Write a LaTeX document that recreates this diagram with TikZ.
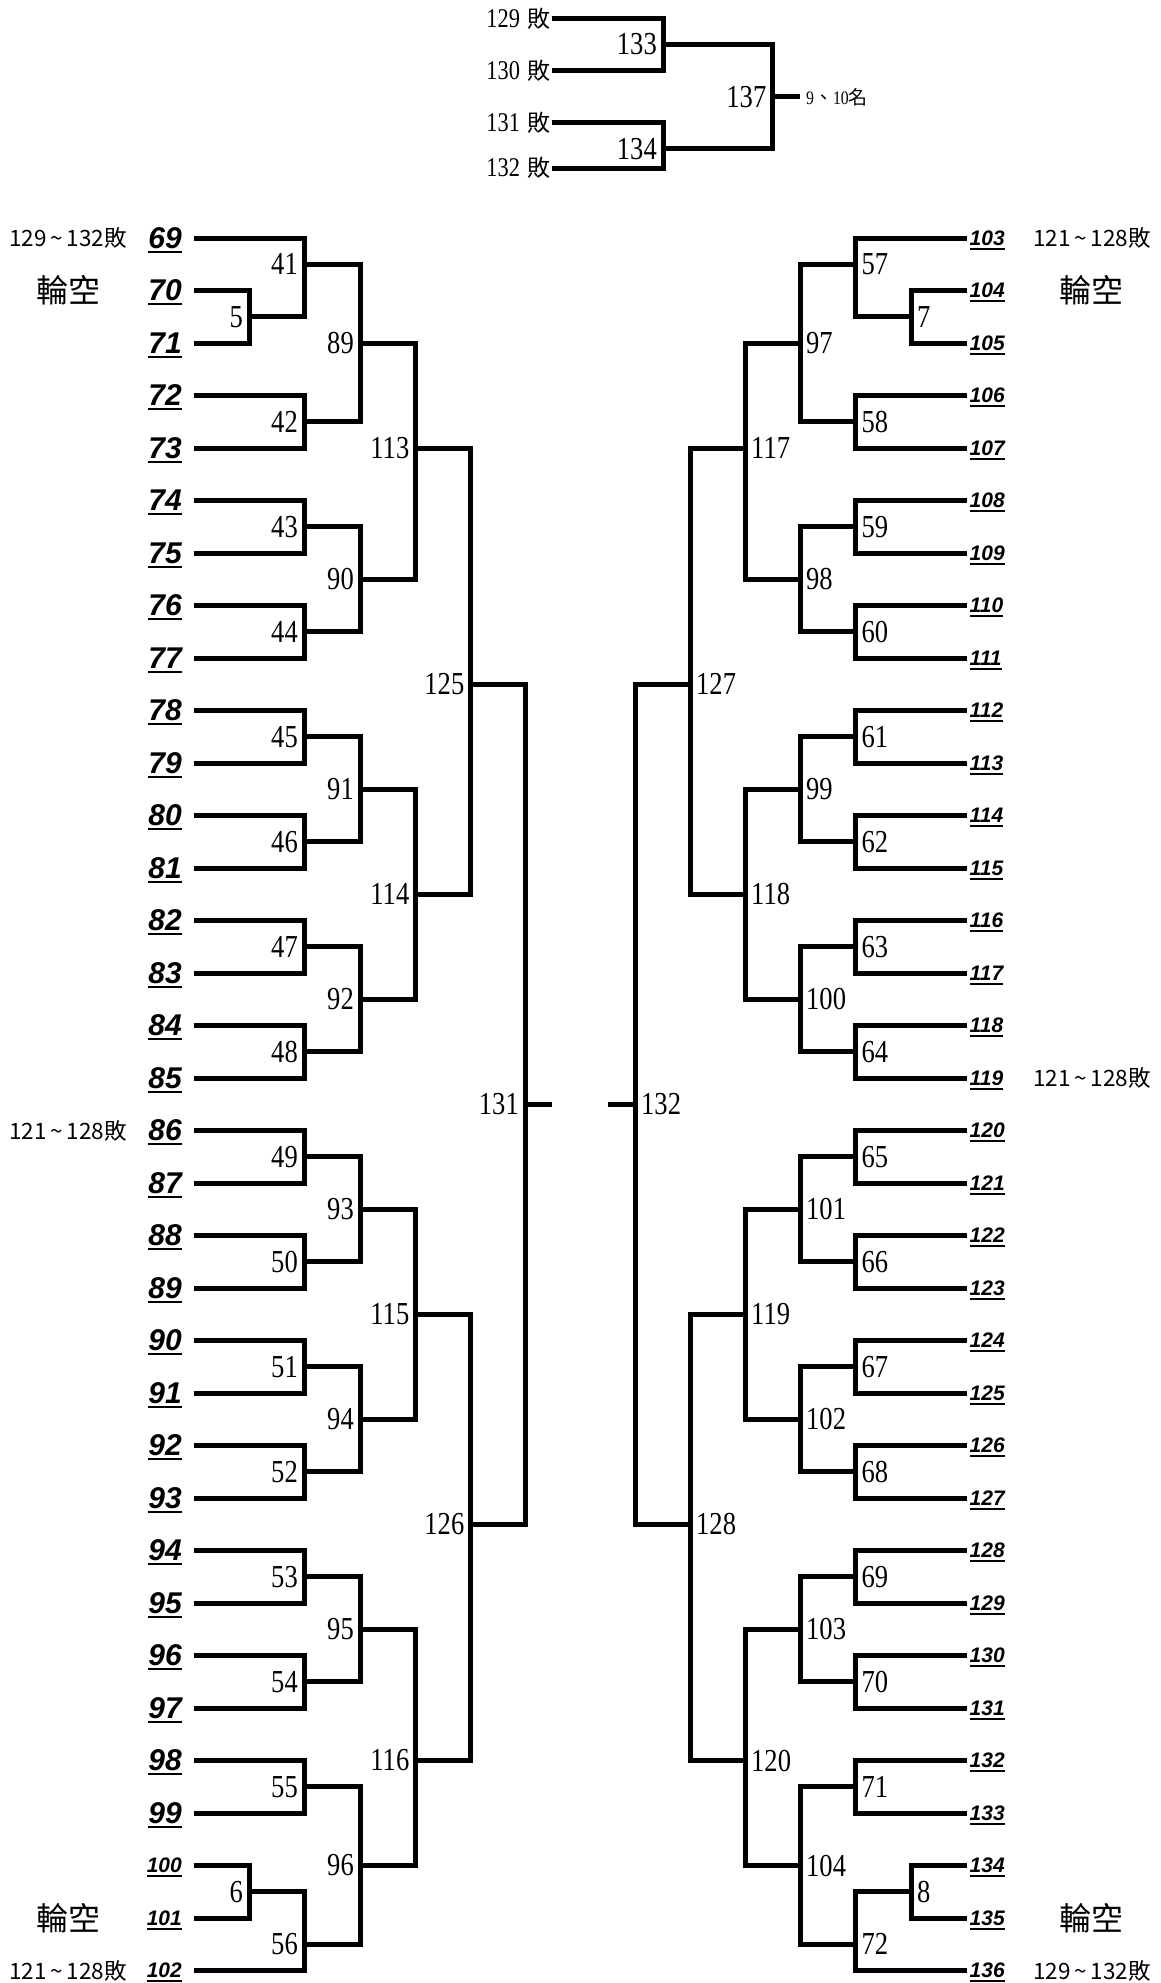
\documentclass[tikz,border=0pt]{standalone}
\usepackage{fontspec}
\setmainfont{Liberation Serif}
\newfontfamily\numfont{Liberation Serif}[FakeStretch=0.83]
\newfontfamily\seatfont{Liberation Sans}
\newfontfamily\cjk{Noto Sans CJK TC}
\usetikzlibrary{positioning}

\newcommand{\seatno}[1]{\setbox0=\hbox{#1}\rlap{\smash{\rule[-4.5pt]{\wd0}{2pt}}}\box0}
\newcommand{\loser}[1]{{\numfont\fontsize{27}{27}\selectfont #1}\hspace{7pt}敗}
\newcommand{\upto}{\,\textasciitilde\,}

\tikzset{
  bracket/.style={line width=5pt},
  seatL/.style={anchor=east, inner xsep=12pt, inner ysep=0pt, font=\seatfont\bfseries\itshape\fontsize{30}{30}\selectfont},
  seatLs/.style={seatL, font=\seatfont\bfseries\itshape\fontsize{21}{21}\selectfont},
  seatR/.style={anchor=west, inner xsep=3pt, inner ysep=0pt, font=\seatfont\bfseries\itshape\fontsize{21}{21}\selectfont},
  numL/.style={anchor=east, inner sep=0pt, xshift=-6pt, font=\numfont\fontsize{32}{32}\selectfont},
  numR/.style={anchor=west, inner sep=0pt, xshift=6pt, font=\numfont\fontsize{32}{32}\selectfont},
  topseat/.style={anchor=east, inner xsep=1.5pt, inner ysep=0pt, font=\cjk\fontsize{23}{23}\selectfont},
  note/.style={inner sep=0pt, font=\cjk\fontsize{22.5}{22.5}\selectfont},
  bye/.style={inner sep=0pt, font=\cjk\fontsize{32}{32}\selectfont},
}

\begin{document}
\begin{tikzpicture}[x=1pt,y=-1pt]
\useasboundingbox (0,0) rectangle (1161,1983);

% seats
\foreach \n [count=\i from 0] in {69,...,99}
  \node[seatL] (e\n) at (194,{238+52.5*\i}) {\seatno{\n}};
\foreach \n [count=\i from 31] in {100,101,102}
  \node[seatLs] (e\n) at (194,{238+52.5*\i}) {\seatno{\n}};
\foreach \n [count=\i from 0] in {103,...,136}
  \node[seatR] (e\n) at (966.5,{238+52.5*\i}) {\seatno{\n}};

% left half: game/x/row/upper/lower
\foreach \g/\x/\r/\p/\q in {5/249/1.5/e70.east/e71.east, 41/304/0.5/e69.east/g5,
    42/304/3.5/e72.east/e73.east, 89/360/2/g41/g42,
    43/304/5.5/e74.east/e75.east, 44/304/7.5/e76.east/e77.east, 90/360/6.5/g43/g44,
    113/415.5/4/g89/g90,
    45/304/9.5/e78.east/e79.east, 46/304/11.5/e80.east/e81.east, 91/360/10.5/g45/g46,
    47/304/13.5/e82.east/e83.east, 48/304/15.5/e84.east/e85.east, 92/360/14.5/g47/g48,
    114/415.5/12.5/g91/g92, 125/470.5/8.5/g113/g114,
    49/304/17.5/e86.east/e87.east, 50/304/19.5/e88.east/e89.east, 93/360/18.5/g49/g50,
    51/304/21.5/e90.east/e91.east, 52/304/23.5/e92.east/e93.east, 94/360/22.5/g51/g52,
    115/415.5/20.5/g93/g94,
    53/304/25.5/e94.east/e95.east, 54/304/27.5/e96.east/e97.east, 95/360/26.5/g53/g54,
    55/304/29.5/e98.east/e99.east, 6/249/31.5/e100.east/e101.east, 56/304/32.5/g6/e102.east,
    96/360/31/g55/g56, 116/415.5/29/g95/g96, 126/470.5/24.5/g115/g116,
    131/525/16.5/g125/g126}
{
  \coordinate (g\g) at (\x,{238+52.5*\r});
  \draw[bracket] (\p) -| (g\g) |- (\q);
  \node[numL] (n\g) at (g\g) {\g};
}

% right half
\foreach \g/\x/\r/\p/\q in {7/911/1.5/e104.west/e105.west, 57/855.5/0.5/e103.west/g7,
    58/855.5/3.5/e106.west/e107.west, 97/800/2/g57/g58,
    59/855.5/5.5/e108.west/e109.west, 60/855.5/7.5/e110.west/e111.west, 98/800/6.5/g59/g60,
    117/745/4/g97/g98,
    61/855.5/9.5/e112.west/e113.west, 62/855.5/11.5/e114.west/e115.west, 99/800/10.5/g61/g62,
    63/855.5/13.5/e116.west/e117.west, 64/855.5/15.5/e118.west/e119.west, 100/800/14.5/g63/g64,
    118/745/12.5/g99/g100, 127/690/8.5/g117/g118,
    65/855.5/17.5/e120.west/e121.west, 66/855.5/19.5/e122.west/e123.west, 101/800/18.5/g65/g66,
    67/855.5/21.5/e124.west/e125.west, 68/855.5/23.5/e126.west/e127.west, 102/800/22.5/g67/g68,
    119/745/20.5/g101/g102,
    69/855.5/25.5/e128.west/e129.west, 70/855.5/27.5/e130.west/e131.west, 103/800/26.5/g69/g70,
    71/855.5/29.5/e132.west/e133.west, 8/911/31.5/e134.west/e135.west, 72/855.5/32.5/g8/e136.west,
    104/800/31/g71/g72, 120/745/29/g103/g104, 128/690/24.5/g119/g120,
    132/635/16.5/g127/g128}
{
  \coordinate (g\g) at (\x,{238+52.5*\r});
  \draw[bracket] (\p) -| (g\g) |- (\q);
  \node[numR] (n\g) at (g\g) {\g};
}

% final stubs
\coordinate (f131) at ([xshift=27pt]g131);
\coordinate (f132) at ([xshift=-27pt]g132);
\draw[bracket] (g131) -- (f131);
\draw[bracket] (g132) -- (f132);

% 9-10 place
\node[topseat] (t129) at (551.7,18.3) {\loser{129}};
\node[topseat] (t130) at (551.7,70.4) {\loser{130}};
\node[topseat] (t131) at (551.7,122.5) {\loser{131}};
\node[topseat] (t132) at (551.7,168) {\loser{132}};
\coordinate (g133) at (663,44.3);
\coordinate (g134) at (663,148.6);
\coordinate (g137) at (772.5,97);
\draw[bracket] (t129.east) -| (g133) |- (t130.east);
\draw[bracket] (t131.east) -| (g134) |- (t132.east);
\draw[bracket] (g133) -| (g137) |- (g134);
\coordinate (f137) at ([xshift=27.5pt]g137);
\draw[bracket] (g137) -- (f137);
\node[numL] (n133) at (g133) {133};
\node[numL] (n134) at (g134) {134};
\node[numL] (n137) at (g137) {137};
\node[inner sep=0pt, right=6pt of f137, font=\fontsize{19}{19}\selectfont] (place)
  {{\numfont 9}{\cjk 、}{\numfont 10}{\cjk 名}};

% notes
\node[note, anchor=east] (noteL1) at (127,238) {129\upto132敗};
\node[bye] (byeL1) at (68.3,290.5) {輪空};
\node[note, anchor=east] (noteL2) at (127,1130.5) {121\upto128敗};
\node[bye] (byeL2) at (68.3,1918) {輪空};
\node[note, anchor=east] (noteL3) at (127,1970.5) {121\upto128敗};
\node[note, anchor=west] (noteR1) at (1033,238) {121\upto128敗};
\node[bye] (byeR1) at (1091.7,290.5) {輪空};
\node[note, anchor=west] (noteR2) at (1033,1078) {121\upto128敗};
\node[bye] (byeR2) at (1091.7,1918) {輪空};
\node[note, anchor=west] (noteR3) at (1033,1970.5) {129\upto132敗};
\end{tikzpicture}
\end{document}
